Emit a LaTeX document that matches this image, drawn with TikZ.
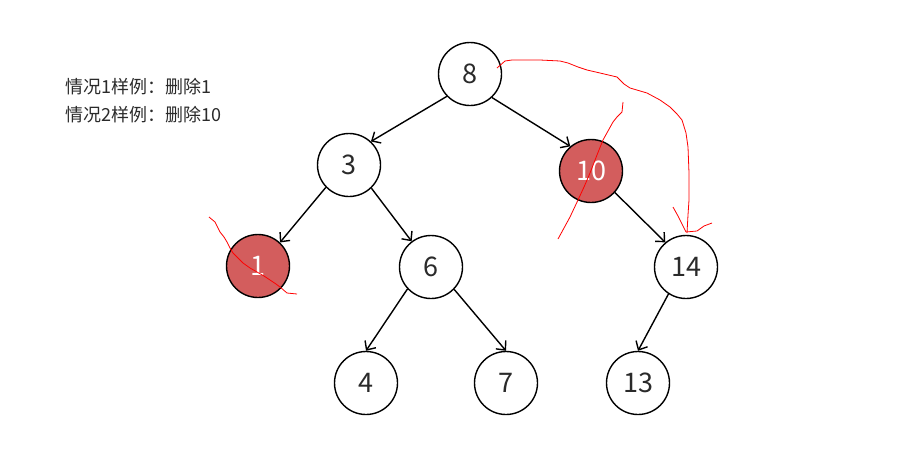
\documentclass[tikz,border=0pt]{standalone}
\usepackage{fontspec}
\setmainfont{Noto Sans CJK SC}
\usetikzlibrary{arrows.meta}
\definecolor{txt}{HTML}{2A2A2A}
\definecolor{delred}{HTML}{D35D5D}
\tikzset{
  tn/.style={circle,draw=black,line width=1.4pt,minimum size=63pt,inner sep=0pt,font=\fontsize{27}{29}\selectfont,text=txt,fill=white},
  deln/.style={tn,fill=delred,text=white},
  edge/.style={draw=black,line width=1.4pt,-{Straight Barb[length=7pt,width=13pt,line width=1.4pt]}},
  scribble/.style={draw=red,line width=0.8pt,line join=round},
  note/.style={anchor=west,font=\fontsize{18}{20}\selectfont,text=txt,inner sep=0pt}
}
\begin{document}
\begin{tikzpicture}[x=1pt,y=-1pt]
\useasboundingbox (0,0) rectangle (900,453);
\node[note] (t1) at (65,87) {情况1样例：删除1};
\node[note] (t2) at (65,115) {情况2样例：删除10};
\node[tn] (n8) at (470,74) {8};
\node[tn] (n3) at (349,165) {3};
\node[deln] (n10) at (591,171) {10};
\node[deln] (n1) at (258,266) {1};
\node[tn] (n6) at (431,267) {6};
\node[tn] (n14) at (686,267) {14};
\node[tn] (n4) at (366,383) {4};
\node[tn] (n7) at (506,383) {7};
\node[tn] (n13) at (638,383) {13};
\draw[edge] (n8.224) -- (n3.47);
\draw[edge] (n8.313) -- (n10.130);
\draw[edge] (n3.224) -- (n1.47);
\draw[edge] (n3.314) -- (n6.127);
\draw[edge] (n6.223) -- (n4.north);
\draw[edge] (n6.316) -- (n7.north);
\draw[edge] (n10.318) -- (n14.130);
\draw[edge] (n14.237) -- (n13.north);
% red scribbles
\draw[scribble] (209,217) -- (215,222) -- (218,228) -- (220,232) -- (224,237) -- (227,242) -- (230,248) -- (233,253) -- (238,258) -- (243,263) -- (250,268) -- (257,272) -- (264,276) -- (270,280) -- (276,284) -- (280,287) -- (287,293) -- (297,294);
\draw[scribble] (623,102) -- (622,112) -- (617,117) -- (613,122) -- (608,131) -- (603,140) -- (597,155) -- (590,173) -- (584,187) -- (578,200) -- (570,217) -- (564,228) -- (558,239);
\draw[scribble] (497,68) -- (505,61) -- (512,60) -- (540,60) -- (560,61) -- (568,63) -- (578,67) -- (587,70) -- (600,73) -- (617,77) -- (624,84) -- (630,88) -- (647,93) -- (660,100) -- (670,107) -- (677,114) -- (682,120) -- (686,133) -- (688,147) -- (689,173) -- (689,200) -- (688,215) -- (687,233);
\draw[scribble] (673,207) -- (678,216) -- (682,224) -- (686,232) -- (697,231) -- (704,226) -- (712,223);
\end{tikzpicture}
\end{document}
